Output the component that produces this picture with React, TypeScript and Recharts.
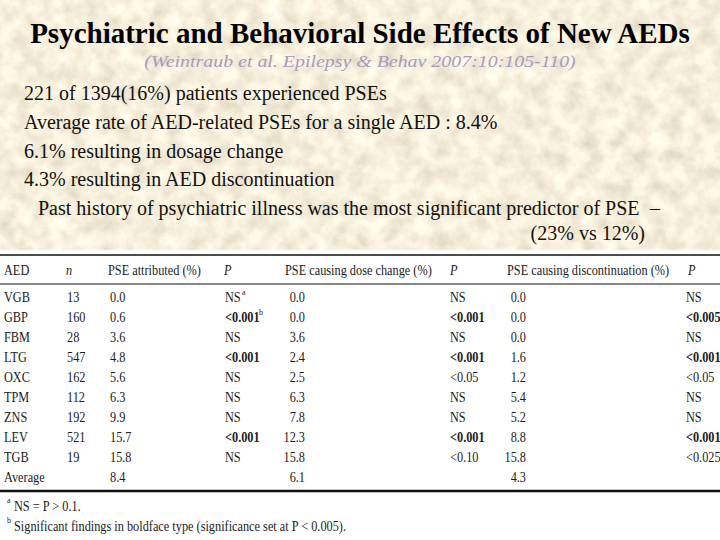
import { Surface, Text } from "recharts"

const aeds = ["VGB", "GBP", "FBM", "LTG", "OXC", "TPM", "ZNS", "LEV", "TGB"]
const patients = [13, 160, 28, 547, 162, 112, 192, 521, 19]
const pseAttributed = ["0.0", "0.6", "3.6", "4.8", "5.6", "6.3", "9.9", "15.7", "15.8"]
const pAttributed = ["NS", "<0.001", "NS", "<0.001", "NS", "NS", "NS", "<0.001", "NS"]
const pseDoseChange = ["0.0", "0.0", "3.6", "2.4", "2.5", "6.3", "7.8", "12.3", "15.8"]
const pDoseChange = ["NS", "<0.001", "NS", "<0.001", "<0.05", "NS", "NS", "<0.001", "<0.10"]
const pseDiscontinuation = ["0.0", "0.0", "0.0", "1.6", "1.2", "5.4", "5.2", "8.8", "15.8"]
const pDiscontinuation = ["NS", "<0.005", "NS", "<0.001", "<0.05", "NS", "NS", "<0.001", "<0.025"]
const averages = ["8.4", "6.1", "4.3"]
const significant = ["<0.001", "<0.005"]

const bullets = [
  "221 of 1394(16%) patients experienced PSEs",
  "Average rate of AED-related PSEs for a single AED : 8.4%",
  "6.1% resulting in dosage change",
  "4.3% resulting in AED discontinuation",
]

const SERIF = "Liberation Serif, DejaVu Serif, serif"
const INK = "#1b1b22"

// one line of text squeezed horizontally around its own anchor
function Line({ x, y, sx = 1, anchor = "start", size, weight = "normal", italic = false, fill = INK, children }: any) {
  const font = {
    fontFamily: SERIF,
    fontSize: size,
    fontWeight: weight,
    fontStyle: italic ? "italic" : "normal",
  }
  return (
    <g transform={`translate(${x},${y}) scale(${sx},1)`} style={font}>
      <Text x={0} y={0} textAnchor={anchor} verticalAnchor="middle" fontSize={size} fill={fill} style={font}>
        {children}
      </Text>
    </g>
  )
}

const T = 0.82 // table squeeze
const ROW0 = 297
const ROW_H = 20
const B = 1.0 // bullet squeeze

function Cell({ x, y, v, anchor = "start" }: any) {
  const bold = significant.includes(v)
  return (
    <Line x={x} y={y} sx={T} anchor={anchor} size={15} weight={bold ? "bold" : "normal"}>
      {v}
    </Line>
  )
}

export default function App() {
  return (
    <div style={{ position: "absolute", left: 0, top: 0, width: 720, height: 540, fontFamily: SERIF }}>
      <Surface width={720} height={540} viewBox={{ x: 0, y: 0, width: 720, height: 540 }}>
        <defs>
          <filter id="paper" x="0" y="0" width="100%" height="100%">
            <feTurbulence type="fractalNoise" baseFrequency="0.06" numOctaves="4" seed="7" />
            <feColorMatrix
              type="matrix"
              values="0.45 0 0 0 0.70  0.45 0 0 0 0.64  0.45 0 0 0 0.49  0 0 0 0 1"
            />
          </filter>
        </defs>
        <rect x={0} y={0} width={720} height={250} filter="url(#paper)" />
        <rect x={0} y={250} width={720} height={290} fill="#ffffff" />

        <Line x={360} y={33} sx={1.0} anchor="middle" size={29} weight="bold" fill="#000">
          Psychiatric and Behavioral Side Effects of New AEDs
        </Line>
        <Line x={360} y={61} sx={1.17} anchor="middle" size={17} italic fill="#a49cc0">
          (Weintraub et al. Epilepsy &amp; Behav 2007:10:105-110)
        </Line>

        {bullets.map((b, i) => (
          <Line key={b} x={24} y={93 + i * 28.7} sx={B} size={20} fill="#111">
            {b}
          </Line>
        ))}
        <Line x={38} y={208} sx={B} size={20} fill="#111">
          Past history of psychiatric illness was the most significant predictor of PSE
        </Line>
        <Line x={650} y={208} sx={B} size={20} fill="#111">
          –
        </Line>
        <Line x={645} y={233} sx={B} anchor="end" size={20} fill="#111">
          (23% vs 12%)
        </Line>

        <line x1={0} x2={720} y1={255} y2={255} stroke="#111" strokeWidth={1.5} />
        <line x1={0} x2={720} y1={284} y2={284} stroke="#111" strokeWidth={1} />
        <line x1={0} x2={720} y1={491} y2={491} stroke="#111" strokeWidth={2.5} />

        <Line x={4} y={270} sx={T} size={15}>AED</Line>
        <Line x={66} y={270} sx={T} size={15} italic>n</Line>
        <Line x={108} y={270} sx={T} size={15}>PSE attributed (%)</Line>
        <Line x={224} y={270} sx={T} size={15} italic>P</Line>
        <Line x={285} y={270} sx={T} size={15}>PSE causing dose change (%)</Line>
        <Line x={450} y={270} sx={T} size={15} italic>P</Line>
        <Line x={507} y={270} sx={T} size={15}>PSE causing discontinuation (%)</Line>
        <Line x={688} y={270} sx={T} size={15} italic>P</Line>

        {aeds.map((a, i) => {
          const y = ROW0 + i * ROW_H
          return (
            <g key={a}>
              <Cell x={4} y={y} v={a} />
              <Cell x={67} y={y} v={String(patients[i])} />
              <Cell x={110} y={y} v={pseAttributed[i]} />
              <Cell x={225} y={y} v={pAttributed[i]} />
              <Cell x={305} y={y} v={pseDoseChange[i]} anchor="end" />
              <Cell x={450} y={y} v={pDoseChange[i]} />
              <Cell x={526} y={y} v={pseDiscontinuation[i]} anchor="end" />
              <Cell x={686} y={y} v={pDiscontinuation[i]} />
            </g>
          )
        })}
        <Line x={242} y={292} size={8}>a</Line>
        <Line x={259} y={312} size={8}>b</Line>

        <Line x={4} y={ROW0 + aeds.length * ROW_H} sx={T} size={15}>Average</Line>
        <Cell x={110} y={ROW0 + aeds.length * ROW_H} v={averages[0]} />
        <Cell x={305} y={ROW0 + aeds.length * ROW_H} v={averages[1]} anchor="end" />
        <Cell x={526} y={ROW0 + aeds.length * ROW_H} v={averages[2]} anchor="end" />

        <Line x={7} y={500} size={8}>a</Line>
        <Line x={14} y={506} sx={T} size={15}>NS = P &gt; 0.1.</Line>
        <Line x={7} y={520} size={8}>b</Line>
        <Line x={14} y={526} sx={T} size={15}>
          Significant findings in boldface type (significance set at P &lt; 0.005).
        </Line>
      </Surface>
    </div>
  )
}
